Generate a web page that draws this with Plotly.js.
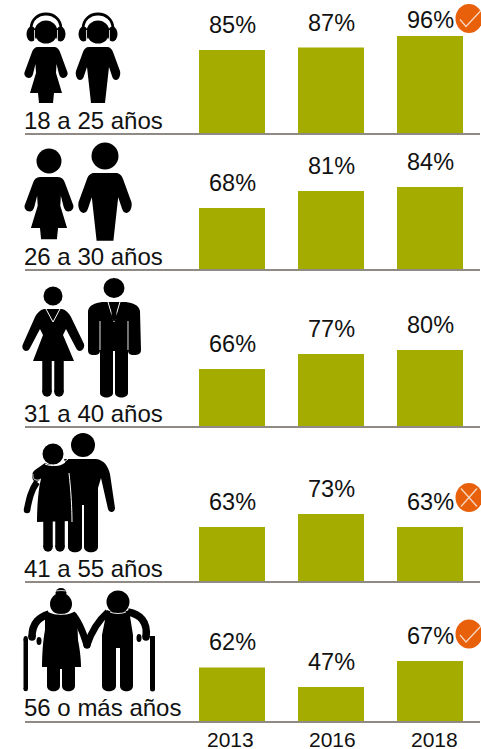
<!DOCTYPE html>
<html><head><meta charset="utf-8">
<script src="https://cdn.plot.ly/plotly-3.0.1.min.js"></script>
<style>html,body{margin:0;padding:0;background:#fff}</style></head>
<body><div id="chart" style="width:481px;height:749px"></div>
<script>
const years = ['2013','2016','2018'];
const groups = ['18 a 25 años','26 a 30 años','31 a 40 años','41 a 55 años','56 o más años'];
const group1 = [85,87,96];
const group2 = [68,81,84];
const group3 = [66,77,80];
const group4 = [63,73,63];
const group5 = [62,47,67];
const allGroups = [group1,group2,group3,group4,group5];
const axisLow = [18.9,20.7,23.4,20.7,20];
const pxPerPct = [1.27,1.31,1.36,1.3,1.3];
const baselines = [134,270,427,582,722];
const labelY = [120.5,256.5,413.5,568.5,707.5];
const yearShift = [-2,1.5,4];

const W=481,H=749,PANEL=110;
const INK='#000', GREEN='#A5AC00', ORANGE='#E8600A', RULE='#8F8B84', TXT='#111';
const FONT='"Liberation Sans", Arial, sans-serif';
const fx=x=>x/W, fy=y=>1-y/H;
function toPaper(p){return p.replace(/(-?[\d.]+)[ ,](-?[\d.]+)/g,(m,a,b)=>fx(+a).toFixed(5)+','+fy(+b).toFixed(5));}
function move(p,dx,dy,sx,sy){let i=0;return p.replace(/-?[\d.]+/g,m=>{const v=+m;const r=(i%2===0)?dx+v*sx:dy+v*sy;i++;return r.toFixed(2);});}
const shapes=[];
function fill(p,c){shapes.push({type:'path',xref:'paper',yref:'paper',path:toPaper(p),fillcolor:c||INK,line:{width:0},layer:'above'});}
function stroke(p,w,c){shapes.push({type:'path',xref:'paper',yref:'paper',path:toPaper(p),line:{width:w,color:c||INK},fillcolor:'rgba(0,0,0,0)',layer:'above'});}
function ell(cx,cy,rx,ry,c){shapes.push({type:'circle',xref:'paper',yref:'paper',x0:fx(cx-rx),x1:fx(cx+rx),y0:fy(cy+ry),y1:fy(cy-ry),fillcolor:c||INK,line:{width:0},layer:'above'});}
function rule(y){shapes.push({type:'line',xref:'paper',yref:'paper',x0:fx(25),x1:fx(480),y0:fy(y),y1:fy(y),line:{width:2,color:RULE},layer:'above'});}
function limb(pts,w,c){stroke(pts,w,c);const n=pts.match(/-?[\d.]+/g).map(Number);ell(n[n.length-2],n[n.length-1],w/2,w/2,c);}
function bar(x0,y0,x1,y1,c){fill(`M${x0} ${y0} L${x1} ${y0} L${x1} ${y1} L${x0} ${y1} Z`,c);}

const womanT='M-8 0 L8 0 C11 0 13 2 14 5 L21 24 C23 28 20 31 17 31 C15 31 14 30 13 27 L10.5 17 L10 26 L16 46 L8 46 L7 56 L-7 56 L-8 46 L-16 46 L-10 26 L-10.5 17 L-13 27 C-14 30 -15 31 -17 31 C-20 31 -23 28 -21 24 L-14 5 C-13 2 -11 0 -8 0 Z';
const manT='M-9 0 L9 0 C12 0 14 2 15 5 L22 24 C23 28 21 33 18 33 C16 33 15 32 14 29 L11 20 L7 56 L-7 56 L-11 20 L-14 29 C-15 32 -16 33 -18 33 C-21 33 -23 28 -22 24 L-15 5 C-14 2 -12 0 -9 0 Z';

// panel 1: headphones
fill(move(womanT,46,47,1,1));
fill(move(manT,98,47,1,1));
[46,98].forEach(cx=>{
  ell(cx,32,11.5,11.5);
  ell(cx-14.5,34,5,7.5); ell(cx+14.5,34,5,7.5);
  stroke(`M${cx-15} 29 C${cx-15} 9 ${cx+15} 9 ${cx+15} 29`,2.8);
  stroke(`M${cx-11.5} 30 L${cx-11.5} 40`,.8,'#fff'); stroke(`M${cx+11.5} 30 L${cx+11.5} 40`,.8,'#fff');
});
// panel 2
fill(move(womanT,49,177,1.13,1.11)); ell(49,161,12.5,12.5);
fill(move(manT,105,173,1.2,1.21)); ell(105,156,13.5,13.5);
// panel 3: suits
ell(53,296,9.5,9.5);
fill('M44 309 L62 309 C66 310 69 313 71 317 L84 344 C85 348 82 351 80 351 C78 351 77 350 76 348 L66 329 L63 335 L74 361 L33 361 L43 335 L40 329 L30 348 C29 350 28 351 26 351 C24 351 21 348 23 344 L35 317 C37 313 40 310 44 309 Z');
limb('M47 361 L47 392',9.5); limb('M59 361 L59 392',9.5);
stroke('M46 309 L53 322 L60 309',1,'#fff');
ell(114,288,10.5,10);
fill('M102 302 L126 302 C133 303 139 305 140 311 L141 350 C141 354 138 355 134 355 C130 355 128 354 128 350 L128 356 L128 393 C128 399 115 399 115 393 L115 351 L113 351 L113 393 C113 399 100 399 100 393 L100 356 L100 350 C100 354 98 355 94 355 C90 355 88 354 88 350 L88 311 C89 305 95 303 102 302 Z');
stroke('M100 321 L100 350',.9,'#fff'); stroke('M128 321 L128 350',.9,'#fff');
stroke('M108 302 L114 322 L120 302',1,'#fff');
fill('M112 303 L116 303 L115.5 307 L117 317 L114 322 L111 317 L112.5 307 Z');
// panel 4: couple
ell(83,445,12,12);
fill('M64 459 L96 459 C104 460 108 466 110 474 L115 508 C115 513 109 513 108 509 L101 478 L98 488 L98 547 C98 554 84 554 84 547 L84 505 L82 505 L82 547 C82 554 68 554 68 547 L68 470 Z');
ell(53,454,10.5,10.5);
fill('M45 463 C55 467 62 467 68 460 L70 473 C71 490 72 510 72 521 L37 522 C37 510 38 490 41 479 L37 482 C32 482 30 474 35 470 Z');
stroke('M45 464 C52 467 60 466 68 459',1,'#fff');
stroke('M69 473 C71 490 72 510 72 522',1,'#fff');
stroke('M41 479 C36 482 32 479 33 474',.9,'#fff');
limb('M37 482 C31 490 29 500 27 510',6.5);
limb('M48 520 L48 547',9.5); limb('M60 520 L60 547',9.5);
// panel 5: elderly
ell(61,593,5.5,5); ell(61,604,11,11);
stroke('M54 613 C58 615 64 615 68 613',.9,'#fff');
stroke('M53 592 C57 590 65 590 69 592',.8,'#fff');
fill('M48 612 C56 616 66 616 74 612 L77 614 L78 640 C80 650 81 660 81 667 L75 667 L75 686 C75 693 62 693 62 686 L62 669 L60 669 L60 686 C60 693 47 693 47 686 L47 667 L42 667 C42 655 43 640 45 630 L45 614 Z');
limb('M49 614 C40 617 32 622 32 637',7.5);
limb('M72 614 C78 620 83 632 87 645',7);
ell(118,602,11.5,11.5);
fill('M107 610 C113 613 123 613 129 610 L133 635 L133 686 C133 693 120 693 120 686 L120 648 L116 648 L116 686 C116 693 102 693 102 686 L102 635 Z');
stroke('M110 612 C114 614 122 614 126 612',.9,'#fff');
limb('M108 612 C99 620 92 630 87 645',7);
limb('M128 612 C140 614 148 622 146 637',7.5);
ell(39,641,2.5,4); ell(139,638,2.5,4);
bar(23.5,639,28,688); limb('M25.7 688 L25.7 689',4.5); ell(25.7,639,2.2,3);
bar(150,636,155,688); limb('M152.5 688 L152.5 689',5);

// badges
function badge(cx,cy,kind){
  ell(cx,cy,13.5,14.5,ORANGE);
  if(kind==='ok') stroke(`M${cx-9} ${cy+1} L${cx-3} ${cy+8} L${cx+12} ${cy-8}`,1.3,'#F6D9C2');
  else { stroke(`M${cx-8} ${cy-9} L${cx+8} ${cy+9}`,1.3,'#F6D9C2'); stroke(`M${cx+8} ${cy-9} L${cx-8} ${cy+9}`,1.3,'#F6D9C2'); }
}
badge(469,18.5,'ok'); badge(469,497.5,'no'); badge(469,634,'ok');

baselines.forEach(rule);

const traces=[],layout={width:W,height:H,margin:{l:0,r:0,t:0,b:0},autosize:false,showlegend:false,
  paper_bgcolor:'#fff',plot_bgcolor:'rgba(0,0,0,0)',bargap:1/3,font:{family:FONT,color:TXT},shapes,annotations:[]};

allGroups.forEach((vals,i)=>{
  const s=i===0?'':String(i+1);
  traces.push({type:'bar',x:years,y:vals,xaxis:'x'+s,yaxis:'y'+s,marker:{color:GREEN,line:{width:0}},hoverinfo:'skip',cliponaxis:false});
  layout['xaxis'+s]={type:'category',domain:[182.5/W,479.5/W],range:[-0.5,2.5],anchor:'y'+s,
    showgrid:false,zeroline:false,showline:false,ticks:'',showticklabels:false,fixedrange:true};
  layout['yaxis'+s]={domain:[fy(baselines[i]),fy(baselines[i]-PANEL)],range:[axisLow[i],axisLow[i]+PANEL/pxPerPct[i]],anchor:'x'+s,
    showgrid:false,zeroline:false,showline:false,ticks:'',showticklabels:false,fixedrange:true};
  vals.forEach((v,j)=>{
    layout.annotations.push({xref:'x'+s,yref:'y'+s,x:j,y:v,text:v+'%',showarrow:false,yanchor:'middle',xanchor:'center',
      yshift:(v>=90?16:25),font:{size:23.5,color:TXT,family:FONT}});
  });
  layout.annotations.push({xref:'paper',yref:'paper',x:fx(24),y:fy(labelY[i]),text:groups[i],showarrow:false,xanchor:'left',yanchor:'middle',xshift:-2,
    font:{size:24,color:TXT,family:FONT}});
});
years.forEach((yr,j)=>{
  layout.annotations.push({xref:'x5',yref:'paper',x:j,y:fy(738.5),text:yr,showarrow:false,xanchor:'center',yanchor:'middle',xshift:yearShift[j],
    height:18,borderpad:0,borderwidth:0,valign:'middle',font:{size:21,color:TXT,family:FONT}});
});
Plotly.newPlot('chart',traces,layout,{displayModeBar:false,staticPlot:true});
</script></body></html>
